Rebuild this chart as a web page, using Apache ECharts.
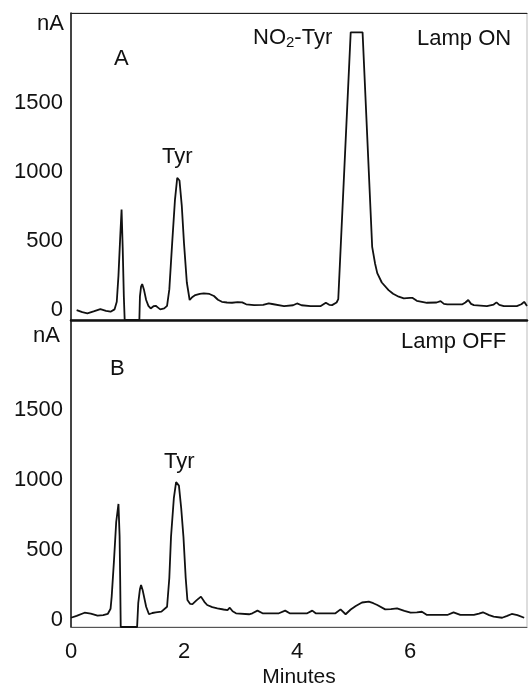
<!DOCTYPE html>
<html>
<head>
<meta charset="utf-8">
<script src="https://cdn.jsdelivr.net/npm/echarts@6/dist/echarts.min.js"></script>
<style>
  html, body { margin: 0; padding: 0; background: #fff; }
  #chart { width: 530px; height: 691px; }
</style>
</head>
<body>
<div id="chart"></div>
<script>
    // 数据：时间(min)与电流(nA)
    var timeA = [0.10,0.20,0.29,0.40,0.52,0.62,0.70,0.77,0.81,0.84,0.87,0.895,0.915,0.935,0.95,1.21,1.22,1.24,1.26,1.29,1.33,1.37,1.41,1.46,1.50,1.54,1.58,1.65,1.70,1.74,1.79,1.84,1.88,1.90,1.92,1.96,2.00,2.05,2.10,2.15,2.20,2.28,2.35,2.45,2.53,2.60,2.67,2.76,2.85,2.95,3.03,3.10,3.24,3.40,3.50,3.56,3.77,3.93,4.00,4.08,4.24,4.42,4.51,4.57,4.62,4.70,4.73,4.95,5.16,5.33,5.38,5.42,5.50,5.62,5.70,5.80,5.89,6.00,6.04,6.12,6.30,6.47,6.54,6.60,6.66,6.92,6.98,7.03,7.08,7.13,7.36,7.48,7.53,7.58,7.66,7.89,7.97,8.02,8.07];
    var signalA = [0,-15,-24,-10,7,-5,-12,5,60,250,520,730,450,100,-72,-72,100,170,189,150,73,30,12,28,31,18,5,12,30,150,484,800,960,972,940,760,484,200,73,95,109,118,121,117,102,75,60,55,53,57,56,42,36,38,48,44,29,35,48,35,29,29,53,38,36,55,80,2015,2015,459,340,268,200,145,118,97,85,88,89,67,53,55,65,45,41,41,55,73,45,36,29,40,56,38,29,29,42,60,29];

    var timeB = [0.00,0.10,0.24,0.35,0.47,0.57,0.65,0.70,0.72,0.76,0.80,0.84,0.86,0.87,0.88,1.17,1.19,1.22,1.24,1.27,1.33,1.38,1.44,1.50,1.60,1.70,1.74,1.77,1.82,1.86,1.88,1.91,1.95,1.99,2.03,2.06,2.11,2.15,2.22,2.30,2.36,2.41,2.50,2.59,2.70,2.77,2.81,2.86,2.92,3.15,3.21,3.30,3.39,3.68,3.79,3.87,4.18,4.27,4.33,4.68,4.77,4.86,4.95,5.04,5.15,5.27,5.35,5.42,5.56,5.66,5.77,5.90,6.01,6.12,6.21,6.30,6.66,6.77,6.89,7.13,7.22,7.29,7.40,7.48,7.63,7.72,7.80,7.90,8.02];
    var signalB = [16,30,52,45,31,35,43,80,167,420,700,829,600,300,-50,-50,120,220,250,210,95,41,50,55,60,95,300,595,870,985,995,960,800,595,300,143,115,114,140,167,130,107,92,83,75,71,88,62,48,41,48,67,48,48,67,48,48,67,48,48,76,41,75,100,125,131,120,107,76,78,83,65,52,55,59,36,36,55,36,36,45,55,35,24,16,30,43,35,16];

    var yTicks = [0, 500, 1000, 1500];
    var xTicks = [0, 2, 4, 6];

    function pairs(t, v) {
        return t.map(function (x, i) { return [x, v[i]]; });
    }
    function plain(v) { return String(v); }

    var FONT = 'Liberation Sans';
    var FS = 22;
    var chart = echarts.init(document.getElementById('chart'), null, {renderer: 'canvas'});

    function yAxisFor(idx, min, max) {
        return {
            type: 'value', gridIndex: idx, min: min, max: max,
            axisLine: {show: true, lineStyle: {color: '#111', width: 1.5}},
            axisTick: {show: false},
            splitLine: {show: false},
            axisLabel: {customValues: yTicks, formatter: plain, color: '#111', fontSize: FS, fontFamily: FONT, margin: 8}
        };
    }

    var option = {
        animation: false,
        backgroundColor: '#fff',
        grid: [
            {left: 71, top: 13, width: 456, height: 307, show: true, borderColor: '#bbb', borderWidth: 1},
            {left: 71, top: 320, width: 456, height: 307, show: true, borderColor: '#bbb', borderWidth: 1}
        ],
        xAxis: [
            {
                type: 'value', gridIndex: 0, min: 0, max: 8.07,
                axisLine: {show: true, onZero: false, lineStyle: {color: '#111', width: 2.5}},
                axisTick: {show: false}, axisLabel: {show: false}, splitLine: {show: false}
            },
            {
                type: 'value', gridIndex: 0, position: 'top', min: 0, max: 8.07,
                axisLine: {show: true, onZero: false, lineStyle: {color: '#222', width: 1}},
                axisTick: {show: false}, axisLabel: {show: false}, splitLine: {show: false}
            },
            {
                type: 'value', gridIndex: 1, min: 0, max: 8.07,
                axisLine: {show: true, onZero: false, lineStyle: {color: '#555', width: 1}},
                axisTick: {show: false}, splitLine: {show: false},
                axisLabel: {customValues: xTicks, formatter: plain, color: '#111', fontSize: FS, fontFamily: FONT, margin: 14},
                name: 'Minutes', nameLocation: 'middle', nameGap: 40,
                nameTextStyle: {color: '#111', fontSize: 21, fontFamily: FONT}
            }
        ],
        yAxis: [
            yAxisFor(0, -72, 2155),
            yAxisFor(1, -50, 2143)
        ],
        graphic: [
            {type: 'text', left: 37, top: 13, style: {text: 'nA', font: FS + 'px ' + FONT, fill: '#111'}},
            {type: 'text', left: 114, top: 48, style: {text: 'A', font: FS + 'px ' + FONT, fill: '#111'}},
            {type: 'text', left: 162, top: 146, style: {text: 'Tyr', font: FS + 'px ' + FONT, fill: '#111'}},
            {type: 'text', left: 253, top: 27, style: {
                text: 'NO{s|2}-Tyr', font: FS + 'px ' + FONT, fill: '#111',
                rich: {s: {fontSize: 15, fontFamily: FONT, padding: [9, 0, 0, 0], fill: '#111'}}
            }},
            {type: 'text', left: 417, top: 28, style: {text: 'Lamp ON', font: FS + 'px ' + FONT, fill: '#111'}},
            {type: 'text', left: 33, top: 325, style: {text: 'nA', font: FS + 'px ' + FONT, fill: '#111'}},
            {type: 'text', left: 110, top: 358, style: {text: 'B', font: FS + 'px ' + FONT, fill: '#111'}},
            {type: 'text', left: 164, top: 451, style: {text: 'Tyr', font: FS + 'px ' + FONT, fill: '#111'}},
            {type: 'text', left: 401, top: 331, style: {text: 'Lamp OFF', font: FS + 'px ' + FONT, fill: '#111'}}
        ],
        series: [
            {
                name: 'Lamp ON', type: 'line', xAxisIndex: 0, yAxisIndex: 0,
                data: pairs(timeA, signalA), showSymbol: false, clip: true,
                lineStyle: {color: '#111', width: 1.8}
            },
            {
                name: 'Lamp OFF', type: 'line', xAxisIndex: 2, yAxisIndex: 1,
                data: pairs(timeB, signalB), showSymbol: false, clip: true,
                lineStyle: {color: '#111', width: 1.8}
            }
        ]
    };

    chart.setOption(option);
</script>
</body>
</html>
